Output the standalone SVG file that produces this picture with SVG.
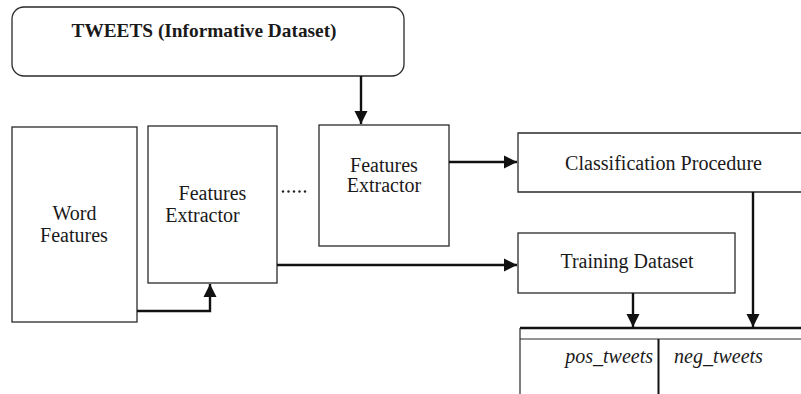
<svg xmlns="http://www.w3.org/2000/svg" width="801" height="394" viewBox="0 0 801 394">
  <style>
    .box { fill: #fff; stroke: #2a2a2a; stroke-width: 1.3; }
    .lbl { font-family: "Liberation Serif", "Times New Roman", serif; font-size: 20px; fill: #1a1a1a; }
    .ttl { font-weight: bold; font-size: 19px; }
    .it { font-style: italic; }
    .wire { fill: none; stroke: #111; stroke-width: 2.4; }
  </style>
  <defs>
    <marker id="arrow" viewBox="0 0 10 10" refX="10" refY="5" markerWidth="5.5" markerHeight="5.5" markerUnits="strokeWidth" orient="auto">
      <path d="M0,0 L10,5 L0,10 Z" fill="#111"/>
    </marker>
  </defs>
  <rect width="801" height="394" fill="#fff"/>

  <g id="tweets">
    <rect class="box" x="12" y="7" width="392" height="69" rx="12" ry="12"/>
    <text class="lbl ttl" x="204" y="37" text-anchor="middle" textLength="265" lengthAdjust="spacingAndGlyphs">TWEETS (Informative Dataset)</text>
  </g>

  <g id="word-features">
    <rect class="box" x="12" y="127" width="125" height="195"/>
    <text class="lbl" x="74.5" y="220" text-anchor="middle">Word</text>
    <text class="lbl" x="74" y="242" text-anchor="middle">Features</text>
  </g>

  <g id="extractor-1">
    <rect class="box" x="148" y="126" width="129" height="157"/>
    <text class="lbl" x="212.5" y="200" text-anchor="middle">Features</text>
    <text class="lbl" x="202.5" y="222" text-anchor="middle">Extractor</text>
  </g>

  <g id="ellipsis">
    <circle cx="283" cy="191.5" r="1.2" fill="#222"/>
    <circle cx="288.5" cy="191.5" r="1.2" fill="#222"/>
    <circle cx="294" cy="191.5" r="1.2" fill="#222"/>
    <circle cx="299.5" cy="191.5" r="1.2" fill="#222"/>
    <circle cx="305" cy="191.5" r="1.2" fill="#222"/>
  </g>

  <g id="extractor-2">
    <rect class="box" x="319" y="125" width="130" height="121"/>
    <text class="lbl" x="384" y="172" text-anchor="middle">Features</text>
    <text class="lbl" x="384" y="192" text-anchor="middle">Extractor</text>
  </g>

  <g id="classification">
    <path class="box" d="M810,133 H518 V192 H810"/>
    <text class="lbl" x="663.5" y="170" text-anchor="middle" textLength="197" lengthAdjust="spacingAndGlyphs">Classification Procedure</text>
  </g>

  <g id="training">
    <rect class="box" x="518" y="233" width="217" height="60"/>
    <text class="lbl" x="627" y="268" text-anchor="middle">Training Dataset</text>
  </g>

  <g id="tweet-store">
    <path d="M520,328 H810" fill="none" stroke="#111" stroke-width="2.6"/>
    <path d="M520,328 V400 M520,339 H810" fill="none" stroke="#2a2a2a" stroke-width="1.2"/>
    <path d="M658.5,339 V400" fill="none" stroke="#111" stroke-width="2"/>
    <text class="lbl it" x="653" y="363" text-anchor="end">pos_tweets</text>
    <text class="lbl it" x="674" y="363">neg_tweets</text>
  </g>

  <g id="connectors">
    <path class="wire" d="M361,76 V124" marker-end="url(#arrow)"/>
    <path class="wire" d="M137,311 H210 V284" marker-end="url(#arrow)"/>
    <path class="wire" d="M277,265 H517" marker-end="url(#arrow)"/>
    <path class="wire" d="M449,162 H517" marker-end="url(#arrow)"/>
    <path class="wire" d="M753,192 V327" marker-end="url(#arrow)"/>
    <path class="wire" d="M633,293 V327" marker-end="url(#arrow)"/>
  </g>
</svg>
